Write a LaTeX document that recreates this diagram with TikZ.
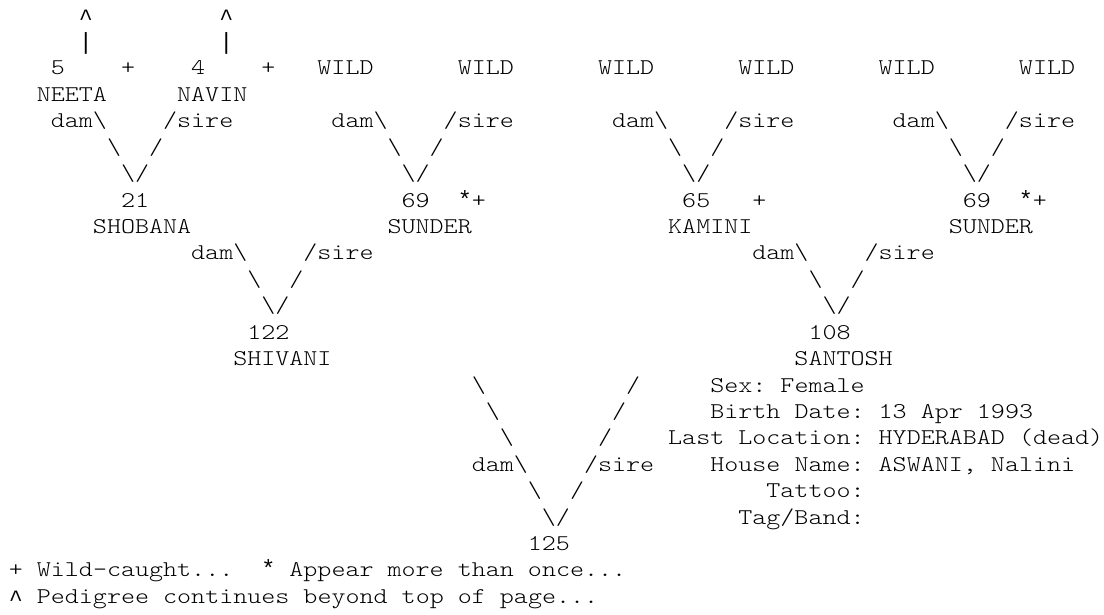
\documentclass[tikz,border=0pt]{standalone}
\usepackage{graphicx}
\usepackage{fontspec}
\newfontfamily\lmlight{Latin Modern Mono Light}
\newfontfamily\libmono{Liberation Mono}
\tikzset{
  txt/.style={anchor=base west, inner sep=0pt, outer sep=0pt,
    font=\fontsize{11.25}{13}\selectfont\lmlight\frenchspacing, text=black},
  libtxt/.style={anchor=base west, inner sep=0pt, outer sep=0pt,
    font=\fontsize{11.69}{13}\selectfont\libmono, text=black}}
% place a text at row #2, column #3 of the character grid
\newcommand{\tx}[4]{\node[txt] (#1) at ({8.8+14.03*(#3)},{75+26.42*((#2)-3)}) {\scalebox{1.188}[1]{#4}};}
% single symbol in Liberation Mono, with a vertical shift #5 (px, downwards)
\newcommand{\tl}[5]{\node[libtxt] (#1) at ({8.8+14.03*(#3)},{75+26.42*((#2)-3)+(#5)}) {#4};}
\newcommand{\bs}{\textbackslash}
\begin{document}
\begin{tikzpicture}[x=0.5pt,y=-0.5pt]
\fill[white] (0,0) rectangle (1104,615);
\useasboundingbox (0,0) rectangle (1104,615);
% continuation marks
\tl{up1}{1}{5}{\textasciicircum}{3}
\tl{up2}{1}{15}{\textasciicircum}{3}
\tl{bar1}{2}{5}{\textbar}{1}
\tl{bar2}{2}{15}{\textbar}{1}
% generation 3
\tx{id5}{3}{3}{5}
\tx{fl5}{3}{8}{+}
\tx{id4}{3}{13}{4}
\tx{fl4}{3}{18}{+}
\foreach \k in {0,...,5} {\tx{wild\k}{3}{22+10*\k}{WILD}}
\tx{neeta}{4}{2}{NEETA}
\tx{navin}{4}{12}{NAVIN}
\foreach \g in {0,1,2,3} {
  \tx{damA\g}{5}{3+20*\g}{dam\bs}
  \tx{sireA\g}{5}{11+20*\g}{/sire}
  \tx{lA\g}{6}{7+20*\g}{\bs}
  \tx{rA\g}{6}{10+20*\g}{/}
  \tx{vA\g}{7}{8+20*\g}{\bs/}
}
% generation 2
\tx{id21}{8}{8}{21}
\tx{id69a}{8}{28}{69}
\tl{st69a}{8}{32}{*}{0}
\tx{fl69a}{8}{33}{+}
\tx{id65}{8}{48}{65}
\tx{fl65}{8}{53}{+}
\tx{id69b}{8}{68}{69}
\tl{st69b}{8}{72}{*}{0}
\tx{fl69b}{8}{73}{+}
\tx{shobana}{9}{6}{SHOBANA}
\tx{sundera}{9}{27}{SUNDER}
\tx{kamini}{9}{47}{KAMINI}
\tx{sunderb}{9}{67}{SUNDER}
\foreach \g in {0,1} {
  \tx{damB\g}{10}{13+40*\g}{dam\bs}
  \tx{sireB\g}{10}{21+40*\g}{/sire}
  \tx{lB\g}{11}{17+40*\g}{\bs}
  \tx{rB\g}{11}{20+40*\g}{/}
  \tx{vB\g}{12}{18+40*\g}{\bs/}
}
% generation 1
\tx{id122}{13}{17}{122}
\tx{id108}{13}{57}{108}
\tx{shivani}{14}{16}{SHIVANI}
\tx{santosh}{14}{56}{SANTOSH}
% final V
\tx{lC1}{15}{33}{\bs}
\tx{rC1}{15}{44}{/}
\tx{lC2}{16}{34}{\bs}
\tx{rC2}{16}{43}{/}
\tx{lC3}{17}{35}{\bs}
\tx{rC3}{17}{42}{/}
\tx{damC}{18}{33}{dam\bs}
\tx{sireC}{18}{41}{/sire}
\tx{lC4}{19}{37}{\bs}
\tx{rC4}{19}{40}{/}
\tx{vC}{20}{38}{\bs/}
\tx{id125}{21}{37}{125}
% details
\tx{sex}{15}{50}{Sex: Female}
\tx{birth}{16}{50}{Birth Date: 13 Apr 1993}
\tx{loc}{17}{47}{Last Location: HYDERABAD (dead)}
\tx{house}{18}{50}{House Name: ASWANI, Nalini}
\tx{tattoo}{19}{54}{Tattoo:}
\tx{tag}{20}{52}{Tag/Band:}
% legend
\tx{leg1}{22}{0}{+ Wild-caught...}
\tl{leg1s}{22}{18}{*}{0}
\tx{leg1b}{22}{20}{Appear more than once...}
\tl{leg2s}{23}{0}{\textasciicircum}{3}
\tx{leg2}{23}{2}{Pedigree continues beyond top of page...}
\end{tikzpicture}
\end{document}
